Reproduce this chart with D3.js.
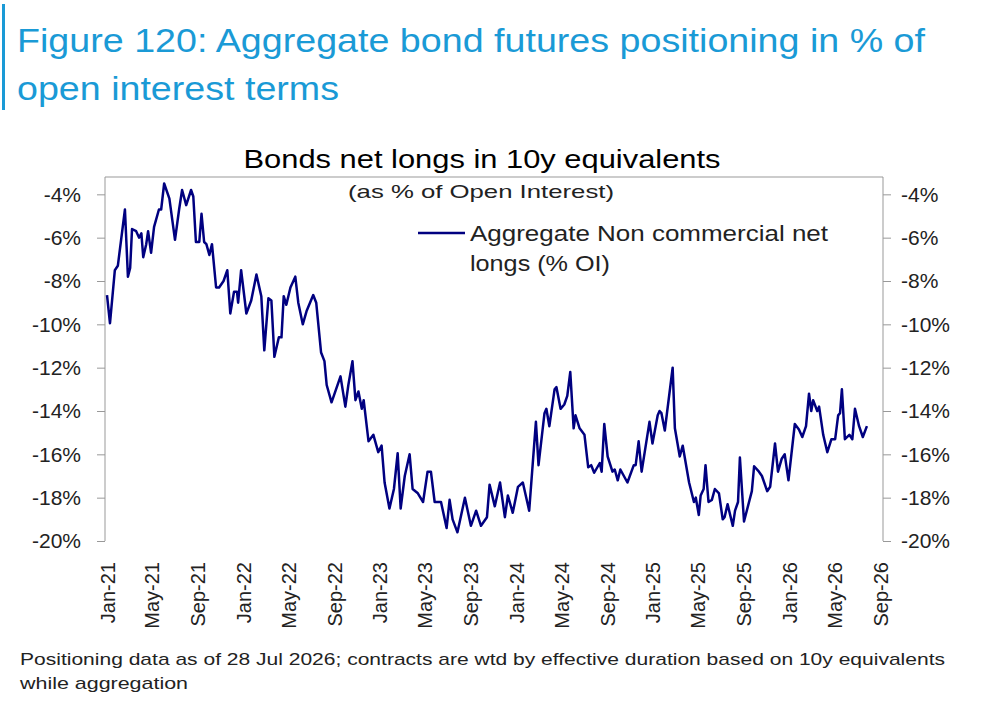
<!doctype html>
<html>
<head>
<meta charset="utf-8">
<script src="https://d3js.org/d3.v7.min.js"></script>
<style>
  body { margin: 0; background: #fff; }
  text { font-family: "Liberation Sans", Arial, sans-serif; }
</style>
</head>
<body>
<svg id="chart" width="1000" height="718"></svg>
<script>
// months elapsed since 1 Jan 2021 (weekly-ish observations) and net longs in % of OI
var monthsFromStart = [0,0.26,0.7,0.96,1.58,1.84,2.1,2.28,2.63,2.89,3.06,3.24,3.5,3.68,3.94,4.2,4.64,4.82,5.08,5.52,6.04,6.39,6.65,7.0,7.44,7.62,7.88,8.14,8.32,8.58,8.76,9.02,9.28,9.63,9.9,10.25,10.6,10.86,11.2,11.47,11.56,11.82,12.26,12.7,13.13,13.57,13.84,14.27,14.54,14.8,15.15,15.41,15.59,15.85,16.2,16.64,16.9,17.25,17.6,18.21,18.48,18.91,19.18,19.35,19.8,20.58,21.0,21.28,21.63,21.9,22.15,22.42,22.6,23.03,23.47,23.9,24.17,24.43,24.87,25.22,25.57,25.83,26.27,26.7,26.97,27.4,27.85,28.28,28.55,28.9,29.42,29.95,30.2,30.47,30.9,31.52,32.05,32.49,32.92,33.45,33.71,34.15,34.59,35.03,35.29,35.73,36.16,36.6,37.13,37.74,38.0,38.53,38.7,38.97,39.4,39.58,39.93,40.28,40.54,40.81,41.07,41.24,41.59,42.03,42.38,42.64,42.91,43.35,43.52,43.78,44.05,44.48,44.66,44.92,45.18,45.8,46.32,46.5,46.76,47.02,47.72,47.99,48.42,48.6,48.77,49.04,49.74,50.0,50.44,50.7,51.23,51.66,51.84,52.1,52.28,52.54,52.71,52.98,53.24,53.5,53.85,54.2,54.38,54.64,55.08,55.25,55.52,55.69,56.04,56.74,56.92,57.36,57.62,58.06,58.32,58.76,59.02,59.37,59.63,59.98,60.51,60.86,61.12,61.47,61.73,62.0,62.17,62.52,62.7,63.05,63.4,63.75,64.1,64.36,64.54,64.71,64.97,65.32,65.59,65.85,66.2,66.55,66.9];
var netLongs = [-8.65,-9.95,-7.5,-7.3,-4.7,-7.8,-7.4,-5.6,-5.7,-6.0,-5.8,-6.9,-6.3,-5.7,-6.7,-5.5,-4.7,-4.7,-3.5,-4.2,-6.1,-4.7,-3.8,-4.5,-3.8,-4.1,-6.2,-6.2,-4.9,-6.2,-6.3,-6.8,-6.3,-8.3,-8.3,-8.0,-7.5,-9.5,-8.5,-8.5,-9.0,-7.5,-9.5,-8.9,-7.7,-8.7,-11.2,-8.8,-8.9,-11.5,-10.6,-10.6,-8.7,-9.1,-8.3,-7.8,-9.0,-10.0,-9.4,-8.65,-9.0,-11.3,-11.7,-12.8,-13.6,-12.4,-13.8,-12.8,-11.7,-13.5,-13.1,-13.9,-13.5,-15.4,-15.1,-15.9,-15.6,-17.3,-18.5,-17.6,-15.95,-18.5,-17.0,-16.0,-17.6,-17.8,-18.2,-16.8,-16.8,-18.2,-18.2,-19.4,-18.1,-19.0,-19.6,-18.0,-19.3,-18.6,-19.3,-18.9,-17.4,-18.4,-17.3,-18.9,-17.9,-18.7,-17.5,-17.3,-18.6,-14.5,-16.5,-14.1,-13.9,-14.7,-13.0,-12.9,-13.9,-13.7,-13.3,-12.2,-14.8,-14.2,-14.8,-15.1,-16.6,-16.5,-16.85,-16.4,-16.8,-14.6,-16.1,-16.8,-16.7,-17.2,-16.7,-17.3,-16.5,-16.5,-15.4,-16.8,-14.5,-15.5,-14.2,-14.0,-14.1,-14.9,-12.0,-14.8,-16.1,-15.6,-17.3,-18.2,-18.0,-18.8,-17.9,-17.6,-16.5,-18.2,-18.1,-17.6,-17.8,-19.0,-18.9,-18.3,-19.3,-18.6,-18.2,-16.15,-19.1,-17.7,-16.55,-16.8,-17.0,-17.7,-17.5,-15.5,-16.8,-16.2,-16.0,-17.2,-14.6,-14.85,-15.2,-14.7,-13.2,-14.0,-13.5,-14.0,-13.8,-15.1,-15.9,-15.3,-15.3,-14.2,-14.1,-13.0,-15.3,-15.1,-15.3,-13.9,-14.7,-15.2,-14.7];
var yTicks = [-4,-6,-8,-10,-12,-14,-16,-18,-20];
var xTickLabels = ["Jan-21","May-21","Sep-21","Jan-22","May-22","Sep-22","Jan-23","May-23","Sep-23","Jan-24","May-24","Sep-24","Jan-25","May-25","Sep-25","Jan-26","May-26","Sep-26"];

function monthToDate(m) {
  var whole = Math.floor(m);
  return new Date(2021, whole, 1 + Math.round((m - whole) * 30));
}
var data = monthsFromStart.map(function(m, i) { return {date: monthToDate(m), value: netLongs[i]}; });
var tickDates = xTickLabels.map(function(d, i) { return new Date(2021, i * 4, 1); });

var svg = d3.select("#chart");
var pLeft = 105, pRight = 883, pTop = 177, pBottom = 541;

function label(x, y, size, txt, len, anchor) {
  var t = svg.append("text").attr("x", x).attr("y", y).style("font-size", size + "px").attr("fill", "#222").text(txt);
  if (len) t.attr("textLength", len).attr("lengthAdjust", "spacingAndGlyphs");
  if (anchor) t.attr("text-anchor", anchor);
  return t;
}

// heading
svg.append("rect").attr("x", 2).attr("y", 4).attr("width", 3).attr("height", 106).attr("fill", "#1a9ad6");
label(17, 52, 34, "Figure 120: Aggregate bond futures positioning in % of", 908).attr("fill", "#1a9ad6");
label(17, 100, 34, "open interest terms", 322).attr("fill", "#1a9ad6");

label(482, 168, 26, "Bonds net longs in 10y equivalents", 477, "middle").attr("fill", "#000");
label(481, 198, 19, "(as % of Open Interest)", 266, "middle");

var x = d3.scaleTime().domain([tickDates[0], tickDates[tickDates.length - 1]]).range([pLeft + 2, pRight - 3]);
var y = d3.scaleLinear().domain([-20, -3.2]).range([pBottom, pTop]);

svg.append("line").attr("x1", pLeft).attr("x2", pRight).attr("y1", pTop).attr("y2", pTop).attr("stroke", "#999");

var yl = svg.append("g").attr("transform", "translate(" + pLeft + ",0)")
  .call(d3.axisLeft(y).tickValues(yTicks).tickSize(8).tickFormat(function(d) { return d + "%"; }));
var yr = svg.append("g").attr("transform", "translate(" + pRight + ",0)")
  .call(d3.axisRight(y).tickValues(yTicks).tickSize(8).tickFormat(function(d) { return d + "%"; }));
[yl, yr].forEach(function(g) {
  g.selectAll(".domain").remove();
  g.append("line").attr("y1", pTop).attr("y2", pBottom).attr("stroke", "#999");
  g.selectAll(".tick line").attr("stroke", "#999");
  g.selectAll(".tick text").style("font-size", "21px").attr("fill", "#222");
});
yl.selectAll(".tick text").attr("x", -24);
yr.selectAll(".tick text").attr("x", 18);

var xa = svg.append("g").attr("transform", "translate(0," + pBottom + ")")
  .call(d3.axisBottom(x).tickValues(tickDates).tickSize(0).tickFormat(function(d, i) { return xTickLabels[i]; }));
xa.select(".domain").remove();
xa.selectAll(".tick text").attr("transform", "rotate(-90)").attr("text-anchor", "end")
  .attr("x", -21).attr("y", 0).attr("dy", "0.35em").style("font-size", "20px").attr("fill", "#222");

svg.append("path").datum(data).attr("fill", "none").attr("stroke", "#000080").attr("stroke-width", 2.5)
  .attr("stroke-linejoin", "round")
  .attr("d", d3.line().x(function(d) { return x(d.date); }).y(function(d) { return y(d.value); }));

// legend
svg.append("line").attr("x1", 418).attr("x2", 465).attr("y1", 233).attr("y2", 233).attr("stroke", "#000080").attr("stroke-width", 2.5);
label(470, 241, 22, "Aggregate Non commercial net", 358);
label(470, 271, 22, "longs (% OI)", 140);

label(20, 665, 17, "Positioning data as of 28 Jul 2026; contracts are wtd by effective duration based on 10y equivalents", 925);
label(20, 689, 17, "while aggregation", 168);
</script>
</body>
</html>
